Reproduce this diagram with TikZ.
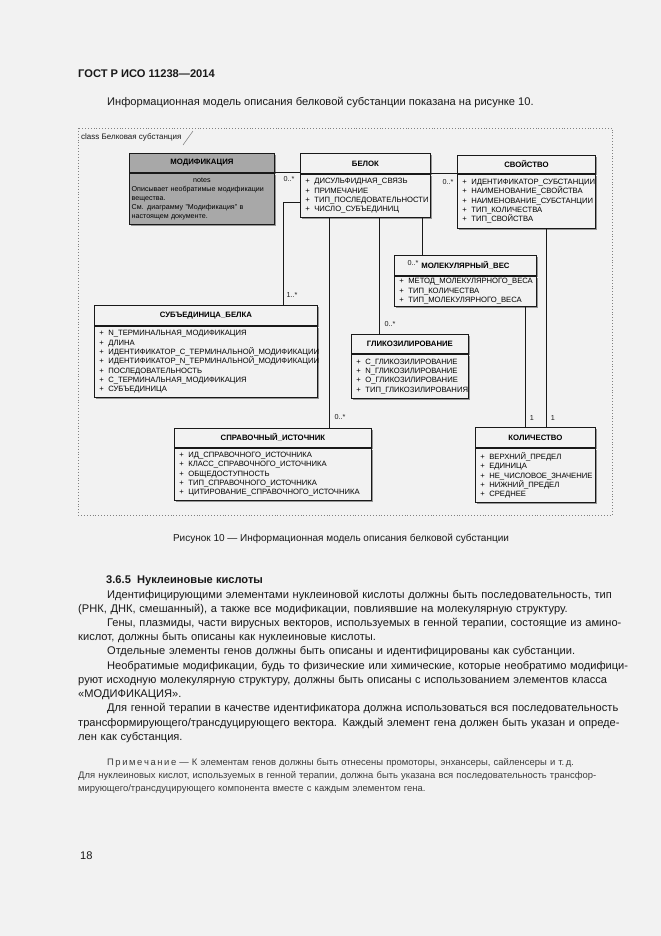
\documentclass[tikz,border=0pt]{standalone}
\usepackage{fontspec}
\setmainfont{Liberation Sans}
\usetikzlibrary{positioning,shadows}

\definecolor{paper}{RGB}{242,242,242}
\definecolor{shade}{RGB}{150,150,150}
\definecolor{modifgrey}{RGB}{168,168,168}
\definecolor{ink}{RGB}{25,25,25}
\definecolor{notetext}{RGB}{60,60,60}

\newcommand\attr[1]{\hspace*{2.5pt}\makebox[8pt][l]{+}#1}
\newcommand\jline[1]{\makebox[\linewidth][s]{#1}\\}

\tikzset{
  clshead/.style={draw=ink, fill=paper, line width=0.8pt, inner sep=0pt, anchor=north west,
    font=\fontsize{7}{8}\selectfont\bfseries,
    drop shadow={shadow xshift=1.8pt, shadow yshift=-1.8pt, fill=shade, opacity=1}},
  clsbody/.style={draw=ink, fill=paper, line width=0.8pt, inner xsep=2pt, inner ysep=0pt,
    anchor=north west, align=left, font=\fontsize{6.9}{8.4}\selectfont,
    drop shadow={shadow xshift=1.8pt, shadow yshift=-1.8pt, fill=shade, opacity=1}},
  mult/.style={font=\fontsize{6.5}{7}\selectfont, inner sep=0pt, text=ink},
  assoc/.style={draw=ink, line width=0.9pt},
  txt/.style={anchor=base west, inner sep=0pt, text=ink},
  framedot/.style={draw=gray, dotted, line width=0.6pt}
}

\begin{document}
\begin{tikzpicture}[x=0.9pt,y=-0.9pt]

\fill[paper] (0,0) rectangle (661,936);

\node[txt, font=\fontsize{10}{12}\selectfont\bfseries] (gost) at (78,77) {ГОСТ Р ИСО 11238—2014};
\node[txt, font=\fontsize{10}{12}\selectfont] (intro) at (107,105) {Информационная модель описания белковой субстанции показана на рисунке 10.};

\draw[framedot] (78,128) rectangle (612,515);
\node[txt, font=\fontsize{7.2}{8}\selectfont] (frametitle) at (81,139) {class Белковая субстанция};
\draw[gray, line width=0.5pt] (183,145) -- (193,131);

\node[clshead, fill=modifgrey, minimum width=130.5pt, minimum height=17.1pt] (modif) at (129,153) {МОДИФИКАЦИЯ};
\node[clsbody, fill=modifgrey, text width=126.5pt, minimum width=130.5pt, minimum height=45.9pt,
  font=\fontsize{6.4}{8}\selectfont] (modif_a) at (modif.south west)
  {\makebox[\linewidth]{notes}\\ Описывает необратимые модификации\\ вещества.\\ См. диаграмму "Модификация" в\\ настоящем документе.};

\node[clshead, minimum width=117pt, minimum height=18pt] (belok) at (300,153) {БЕЛОК};
\node[clsbody, text width=113pt, minimum width=117pt, minimum height=38.7pt] (belok_a) at (belok.south west)
  {\attr{ДИСУЛЬФИДНАЯ\_СВЯЗЬ}\\ \attr{ПРИМЕЧАНИЕ}\\ \attr{ТИП\_ПОСЛЕДОВАТЕЛЬНОСТИ}\\ \attr{ЧИСЛО\_СУБЪЕДИНИЦ}};

\node[clshead, minimum width=124.2pt, minimum height=16.2pt] (svoistvo) at (457,155) {СВОЙСТВО};
\node[clsbody, text width=120.2pt, minimum width=124.2pt, minimum height=48.6pt] (svoistvo_a) at (svoistvo.south west)
  {\attr{ИДЕНТИФИКАТОР\_СУБСТАНЦИИ}\\ \attr{НАИМЕНОВАНИЕ\_СВОЙСТВА}\\ \attr{НАИМЕНОВАНИЕ\_СУБСТАНЦИИ}\\ \attr{ТИП\_КОЛИЧЕСТВА}\\ \attr{ТИП\_СВОЙСТВА}};

\node[clshead, minimum width=127.8pt, minimum height=18pt] (molves) at (394,255) {МОЛЕКУЛЯРНЫЙ\_ВЕС};
\node[clsbody, text width=123.8pt, minimum width=127.8pt, minimum height=27pt] (molves_a) at (molves.south west)
  {\attr{МЕТОД\_МОЛЕКУЛЯРНОГО\_ВЕСА}\\ \attr{ТИП\_КОЛИЧЕСТВА}\\ \attr{ТИП\_МОЛЕКУЛЯРНОГО\_ВЕСА}};

\node[clshead, minimum width=200.7pt, minimum height=18pt] (subed) at (94,305) {СУБЪЕДИНИЦА\_БЕЛКА};
\node[clsbody, text width=196.7pt, minimum width=200.7pt, minimum height=63.9pt] (subed_a) at (subed.south west)
  {\attr{N\_ТЕРМИНАЛЬНАЯ\_МОДИФИКАЦИЯ}\\ \attr{ДЛИНА}\\ \attr{ИДЕНТИФИКАТОР\_С\_ТЕРМИНАЛЬНОЙ\_МОДИФИКАЦИИ}\\
   \attr{ИДЕНТИФИКАТОР\_N\_ТЕРМИНАЛЬНОЙ\_МОДИФИКАЦИИ}\\ \attr{ПОСЛЕДОВАТЕЛЬНОСТЬ}\\ \attr{С\_ТЕРМИНАЛЬНАЯ\_МОДИФИКАЦИЯ}\\ \attr{СУБЪЕДИНИЦА}};

\node[clshead, minimum width=105.3pt, minimum height=17.1pt] (glik) at (351,334) {ГЛИКОЗИЛИРОВАНИЕ};
\node[clsbody, text width=101.3pt, minimum width=105.3pt, minimum height=39.6pt] (glik_a) at (glik.south west)
  {\attr{С\_ГЛИКОЗИЛИРОВАНИЕ}\\ \attr{N\_ГЛИКОЗИЛИРОВАНИЕ}\\ \attr{О\_ГЛИКОЗИЛИРОВАНИЕ}\\ \attr{ТИП\_ГЛИКОЗИЛИРОВАНИЯ}};

\node[clshead, minimum width=177.3pt, minimum height=17.1pt] (sprav) at (174,428) {СПРАВОЧНЫЙ\_ИСТОЧНИК};
\node[clsbody, text width=173.3pt, minimum width=177.3pt, minimum height=46.8pt] (sprav_a) at (sprav.south west)
  {\attr{ИД\_СПРАВОЧНОГО\_ИСТОЧНИКА}\\ \attr{КЛАСС\_СПРАВОЧНОГО\_ИСТОЧНИКА}\\ \attr{ОБЩЕДОСТУПНОСТЬ}\\ \attr{ТИП\_СПРАВОЧНОГО\_ИСТОЧНИКА}\\ \attr{ЦИТИРОВАНИЕ\_СПРАВОЧНОГО\_ИСТОЧНИКА}};

\node[clshead, minimum width=108pt, minimum height=18pt] (kolich) at (475,427) {КОЛИЧЕСТВО};
\node[clsbody, text width=104pt, minimum width=108pt, minimum height=48.6pt] (kolich_a) at (kolich.south west)
  {\attr{ВЕРХНИЙ\_ПРЕДЕЛ}\\ \attr{ЕДИНИЦА}\\ \attr{НЕ\_ЧИСЛОВОЕ\_ЗНАЧЕНИЕ}\\ \attr{НИЖНИЙ\_ПРЕДЕЛ}\\ \attr{СРЕДНЕЕ}};

\coordinate (kSub) at (283,202);

\draw[assoc] (modif.south east) -- (modif.south east -| belok.west);
\draw[assoc] (belok.south east) -- (belok.south east -| svoistvo_a.west);
\draw[assoc] (belok_a.west |- kSub) -| (subed.north -| kSub);

\foreach \x/\from/\to in {329/belok_a/sprav, 379/belok_a/glik, 422/belok_a/molves, 525/molves_a/kolich, 546/svoistvo_a/kolich}
	\draw[assoc] (\from.south -| \x,0) -- (\to.north -| \x,0);

\node[mult] (m_modif) at (289,179) {0..*};
\node[mult] (m_svoistvo) at (448,182) {0..*};
\node[mult] (m_subed) at (292,295) {1..*};
\node[mult] (m_glik) at (390,324) {0..*};
\node[mult] (m_sprav) at (340,417) {0..*};
\node[mult] (m_molves) at (413,263) {0..*};
\node[mult] (m_kol1) at (532,418) {1};
\node[mult] (m_kol2) at (553,418) {1};

\node[font=\fontsize{9}{11}\selectfont, anchor=base, inner sep=0pt, text=ink] (caption) at (341,541) {Рисунок 10 — Информационная модель описания белковой субстанции};

\node[txt, font=\fontsize{10}{12}\selectfont\bfseries] (sec) at (106,583) {3.6.5\ \ Нуклеиновые кислоты};

\node[txt, text width=481.5pt, font=\fontsize{10}{12.8}\selectfont] (body) at (78,598) {%
\jline{\hspace*{26pt}Идентифицирующими элементами нуклеиновой кислоты должны быть последовательность, тип}
(РНК, ДНК, смешанный), а также все модификации, повлиявшие на молекулярную структуру.\\
\jline{\hspace*{26pt}Гены, плазмиды, части вирусных векторов, используемых в генной терапии, состоящие из амино-}
кислот, должны быть описаны как нуклеиновые кислоты.\\
\hspace*{26pt}Отдельные элементы генов должны быть описаны и идентифицированы как субстанции.\\
\jline{\hspace*{26pt}Необратимые модификации, будь то физические или химические, которые необратимо модифици-}
\jline{руют исходную молекулярную структуру, должны быть описаны с использованием элементов класса}
«МОДИФИКАЦИЯ».\\
\jline{\hspace*{26pt}Для генной терапии в качестве идентификатора должна использоваться вся последовательность}
\jline{трансформирующего/трансдуцирующего вектора. Каждый элемент гена должен быть указан и опреде-}
лен как субстанция.};

\node[txt, text width=481.5pt, font=\fontsize{8.5}{12}\selectfont, text=notetext] (note) at (78,765) {%
\jline{\hspace*{26pt}П\,р\,и\,м\,е\,ч\,а\,н\,и\,е\ — К элементам генов должны быть отнесены промоторы, энхансеры, сайленсеры и т.\,д.}
\jline{Для нуклеиновых кислот, используемых в генной терапии, должна быть указана вся последовательность трансфор-}
мирующего/трансдуцирующего компонента вместе с каждым элементом гена.};

\node[txt, font=\fontsize{10}{12}\selectfont] (pageno) at (80,859) {18};

\end{tikzpicture}
\end{document}
